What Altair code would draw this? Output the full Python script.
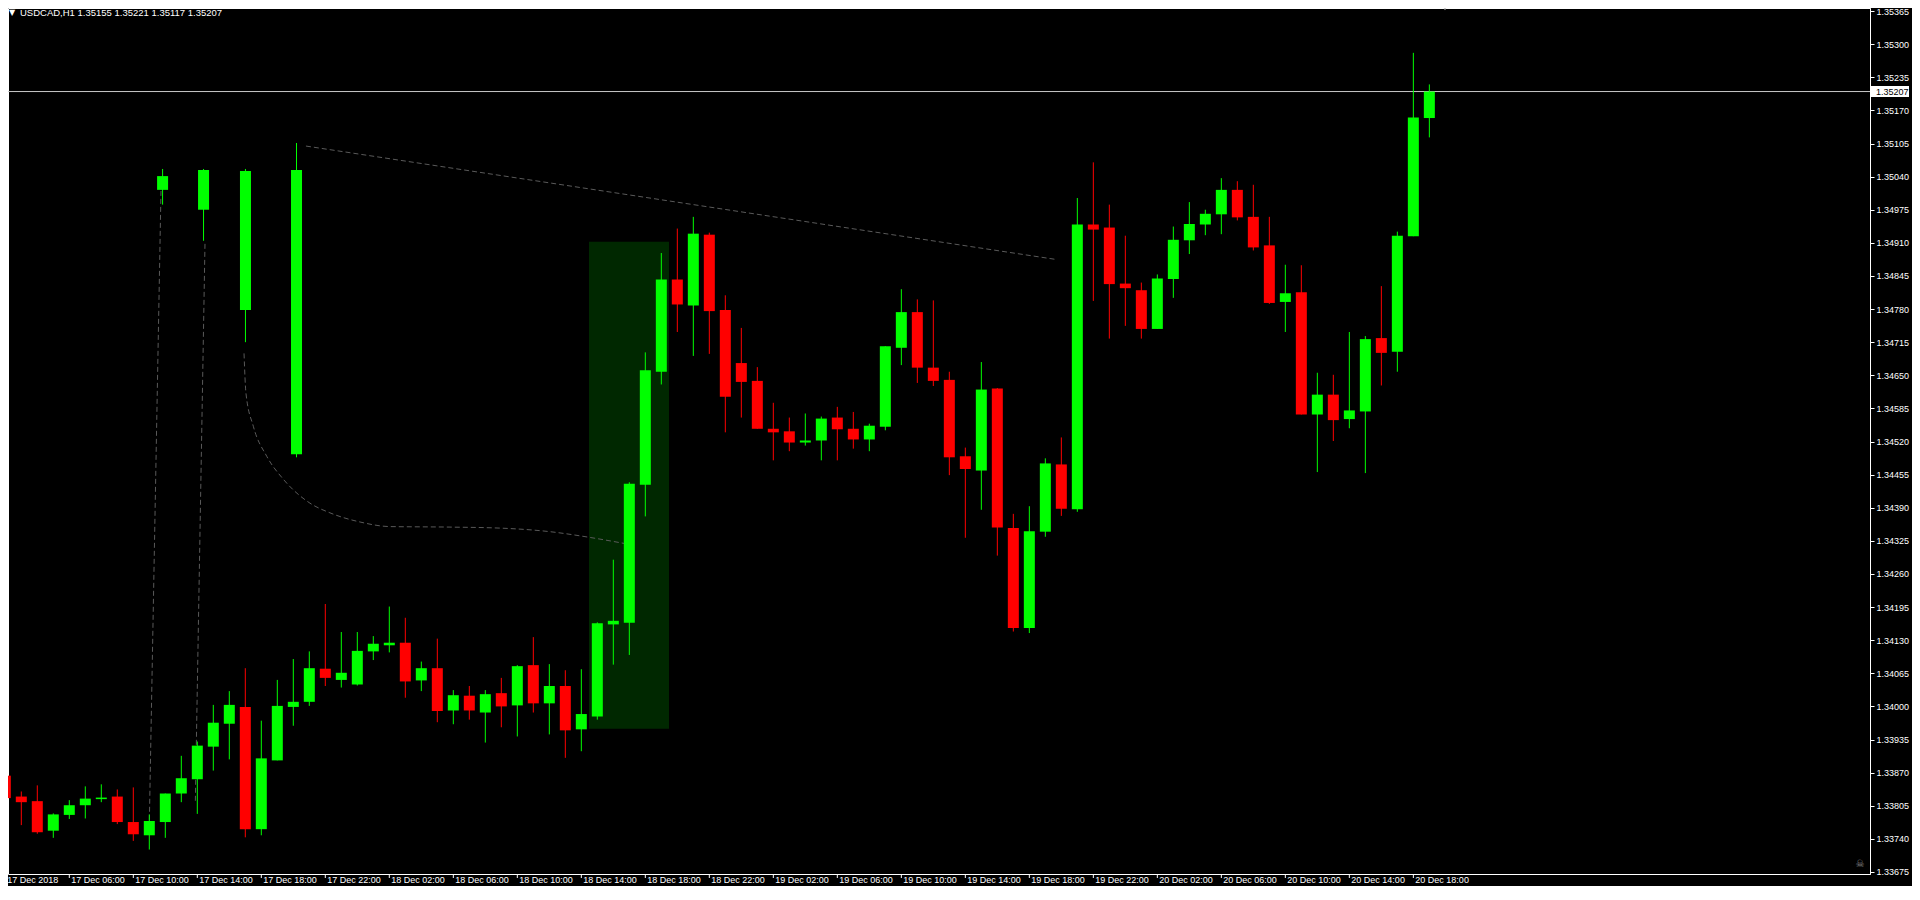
import altair as alt
import pandas as pd

# ---------------- data ----------------
symbol = "USDCAD,H1"

opens = [1.33864, 1.33823, 1.33814, 1.33756, 1.33787, 1.33806, 1.33818, 1.33823, 1.33773, 1.33747,
         1.33773, 1.33829, 1.33857, 1.33921, 1.33966, 1.33999, 1.33759, 1.33894, 1.33999, 1.34009,
         1.34074, 1.34052, 1.34043, 1.34108, 1.34120, 1.34125, 1.34051, 1.34075, 1.33992, 1.34021,
         1.33988, 1.34026, 1.34002, 1.34081, 1.34006, 1.34040, 1.33955, 1.33980, 1.34161, 1.34164,
         1.34435, 1.34657, 1.34838, 1.34787, 1.34926, 1.34778, 1.34674, 1.34639, 1.34545, 1.34540,
         1.34518, 1.34522, 1.34567, 1.34545, 1.34524, 1.34549, 1.34704, 1.34774, 1.34665, 1.34641,
         1.34491, 1.34463, 1.34624, 1.34350, 1.34154, 1.34343, 1.34475, 1.34387, 1.34946, 1.34940,
         1.34830, 1.34817, 1.34741, 1.34839, 1.34915, 1.34946, 1.34966, 1.35014, 1.34961, 1.34905,
         1.34794, 1.34813, 1.34573, 1.34612, 1.34564, 1.34579, 1.34723, 1.34696, 1.34923, 1.35155]
highs = [1.33870, 1.33833, 1.33845, 1.33790, 1.33816, 1.33843, 1.33847, 1.33837, 1.33841, 1.33788,
         1.33829, 1.33903, 1.33931, 1.34003, 1.34030, 1.34075, 1.33972, 1.34052, 1.34093, 1.34108,
         1.34201, 1.34146, 1.34146, 1.34138, 1.34196, 1.34174, 1.34088, 1.34133, 1.34032, 1.34040,
         1.34032, 1.34056, 1.34081, 1.34136, 1.34083, 1.34071, 1.34073, 1.34165, 1.34288, 1.34440,
         1.34695, 1.34890, 1.34938, 1.34961, 1.34930, 1.34807, 1.34743, 1.34666, 1.34596, 1.34567,
         1.34575, 1.34569, 1.34588, 1.34578, 1.34555, 1.34707, 1.34819, 1.34799, 1.34797, 1.34657,
         1.34508, 1.34676, 1.34625, 1.34378, 1.34393, 1.34487, 1.34528, 1.34998, 1.35068, 1.34985,
         1.34924, 1.34832, 1.34848, 1.34942, 1.34990, 1.34975, 1.35037, 1.35031, 1.35024, 1.34961,
         1.34867, 1.34866, 1.34655, 1.34651, 1.34735, 1.34727, 1.34825, 1.34932, 1.35283, 1.35221]
lows = [1.33724, 1.33767, 1.33750, 1.33742, 1.33779, 1.33780, 1.33812, 1.33769, 1.33736, 1.33719,
        1.33742, 1.33812, 1.33789, 1.33874, 1.33896, 1.33743, 1.33747, 1.33894, 1.33962, 1.34001,
        1.34040, 1.34037, 1.34041, 1.34091, 1.34106, 1.34017, 1.34030, 1.33969, 1.33965, 1.33974,
        1.33929, 1.33959, 1.33941, 1.33988, 1.33945, 1.33899, 1.33912, 1.33974, 1.34082, 1.34101,
        1.34373, 1.34632, 1.34735, 1.34688, 1.34692, 1.34538, 1.34567, 1.34545, 1.34483, 1.34501,
        1.34512, 1.34483, 1.34483, 1.34506, 1.34501, 1.34542, 1.34670, 1.34635, 1.34629, 1.34454,
        1.34331, 1.34386, 1.34296, 1.34147, 1.34144, 1.34333, 1.34374, 1.34382, 1.34796, 1.34722,
        1.34747, 1.34722, 1.34741, 1.34802, 1.34888, 1.34925, 1.34927, 1.34954, 1.34895, 1.34790,
        1.34735, 1.34573, 1.34460, 1.34521, 1.34546, 1.34458, 1.34630, 1.34657, 1.34923, 1.35117]
closes = [1.33820, 1.33812, 1.33753, 1.33788, 1.33806, 1.33819, 1.33821, 1.33773, 1.33749, 1.33775,
          1.33829, 1.33859, 1.33923, 1.33968, 1.34003, 1.33759, 1.33898, 1.34001, 1.34009, 1.34075,
          1.34056, 1.34066, 1.34109, 1.34123, 1.34125, 1.34049, 1.34075, 1.33991, 1.34022, 1.33992,
          1.34024, 1.34000, 1.34079, 1.34006, 1.34040, 1.33953, 1.33985, 1.34163, 1.34168, 1.34437,
          1.34660, 1.34838, 1.34789, 1.34928, 1.34776, 1.34608, 1.34637, 1.34545, 1.34538, 1.34518,
          1.34522, 1.34565, 1.34544, 1.34524, 1.34551, 1.34707, 1.34774, 1.34665, 1.34639, 1.34489,
          1.34466, 1.34622, 1.34351, 1.34154, 1.34344, 1.34477, 1.34388, 1.34946, 1.34936, 1.34829,
          1.34821, 1.34741, 1.34840, 1.34916, 1.34947, 1.34967, 1.35014, 1.34960, 1.34901, 1.34792,
          1.34811, 1.34573, 1.34612, 1.34562, 1.34581, 1.34721, 1.34694, 1.34924, 1.35156, 1.35207]
bar_index = list(range(len(opens)))

# drawn candle objects near the top (positions in bar units)
obj_bars = [9.83, 12.39, 15.01, 18.2]
obj_open = [1.35014, 1.34975, 1.34778, 1.34495]
obj_high = [1.35055, 1.35055, 1.35055, 1.35106]
obj_low = [1.34985, 1.34914, 1.34715, 1.34489]
obj_close = [1.35041, 1.35053, 1.35051, 1.35053]

# shaded zone
zone_bar_start = [36.48]
zone_bar_end = [41.48]
zone_top = [1.34912]
zone_bottom = [1.33956]

# dashed drawing lines
line_a_bars = [9.73, 9.0]
line_a_prices = [1.35012, 1.33769]
line_b_bars = [12.48, 11.875]
line_b_prices = [1.34908, 1.33810]
line_d_bars = [18.79, 65.75]
line_d_prices = [1.35100, 1.34877]
curve_bars = [14.92, 15.04, 15.5, 16.34, 17.375, 19.04, 20.29, 22.17, 24.04, 27.79, 30.92, 34.04, 36.48, 38.84]
curve_prices = [1.34693, 1.34615, 1.34550, 1.34491, 1.34446, 1.34399, 1.34380, 1.34362, 1.34353,
                1.34352, 1.34350, 1.34343, 1.34332, 1.34319]

current_price = 1.35207

price_ticks = [1.33675, 1.33740, 1.33805, 1.33870, 1.33935, 1.34000, 1.34065, 1.34130, 1.34195,
               1.34260, 1.34325, 1.34390, 1.34455, 1.34520, 1.34585, 1.34650, 1.34715, 1.34780,
               1.34845, 1.34910, 1.34975, 1.35040, 1.35105, 1.35170, 1.35235, 1.35300, 1.35365]
time_tick_bars = [0, 4, 8, 12, 16, 20, 24, 28, 32, 36, 40, 44, 48, 52, 56, 60, 64, 68, 72, 76, 80, 84, 88]
time_tick_labels = ["17 Dec 2018", "17 Dec 06:00", "17 Dec 10:00", "17 Dec 14:00", "17 Dec 18:00",
                    "17 Dec 22:00", "18 Dec 02:00", "18 Dec 06:00", "18 Dec 10:00", "18 Dec 14:00",
                    "18 Dec 18:00", "18 Dec 22:00", "19 Dec 02:00", "19 Dec 06:00", "19 Dec 10:00",
                    "19 Dec 14:00", "19 Dec 18:00", "19 Dec 22:00", "20 Dec 02:00", "20 Dec 06:00",
                    "20 Dec 10:00", "20 Dec 14:00", "20 Dec 18:00"]

# ---------------- layout ----------------
W, H = 1862, 866
FONT = "Liberation Sans"

xs = alt.Scale(domain=[0.16875, 116.54], nice=False, zero=False)
ys = alt.Scale(domain=[1.33671, 1.35371], nice=False, zero=False)
yaxis = alt.Axis(orient="right", values=price_ticks, format=".5f", labelColor="white",
                 labelFont=FONT, labelFontSize=9, tickColor="white", tickSize=4,
                 domainColor="white", labelPadding=2, grid=False, title=None,
                 labelOverlap=False, labelFlush=False, labelBound=False)
color = alt.Color("dir:N", scale=alt.Scale(domain=["up", "down"], range=["#00ff00", "#ff0000"]),
                  legend=None)

candles = pd.DataFrame({"bar": bar_index, "open": opens, "high": highs, "low": lows, "close": closes})
objs = pd.DataFrame({"bar": obj_bars, "open": obj_open, "high": obj_high, "low": obj_low,
                     "close": obj_close})
allc = pd.concat([candles, objs], ignore_index=True)
allc["dir"] = ["up" if c >= o else "down" for o, c in zip(allc["open"], allc["close"])]

zone_df = pd.DataFrame({"x0": zone_bar_start, "x1": zone_bar_end, "top": zone_top, "bottom": zone_bottom})

lines = []
for name, bs, ps in [("a", line_a_bars, line_a_prices), ("b", line_b_bars, line_b_prices),
                     ("d", line_d_bars, line_d_prices)]:
    for i, (b, p) in enumerate(zip(bs, ps)):
        lines.append({"id": name, "i": i, "bar": b, "price": p})
lines_df = pd.DataFrame(lines)
curve_df = pd.DataFrame({"bar": curve_bars, "price": curve_prices, "i": list(range(len(curve_bars)))})

ticks_df = pd.DataFrame({"bar": time_tick_bars, "label": time_tick_labels})
price_df = pd.DataFrame({"price": [current_price]})
one = pd.DataFrame({"a": [0]})

zone = alt.Chart(zone_df).mark_rect(color="#002800").encode(
    x=alt.X("x0:Q", scale=xs, axis=None), x2="x1:Q",
    y=alt.Y("top:Q", scale=ys, axis=yaxis), y2="bottom:Q")

price_line = alt.Chart(price_df).mark_rule(color="#c8c8c8", strokeWidth=1).encode(
    y=alt.Y("price:Q", scale=ys, axis=yaxis))

dashed = alt.Chart(lines_df).mark_line(color="#5a5a5a", strokeWidth=1, strokeDash=[5, 3]).encode(
    x=alt.X("bar:Q", scale=xs, axis=None), y=alt.Y("price:Q", scale=ys, axis=yaxis),
    detail="id:N", order="i:Q")

curve = alt.Chart(curve_df).mark_line(color="#5a5a5a", strokeWidth=1, strokeDash=[5, 3],
                                      interpolate="monotone").encode(
    x=alt.X("bar:Q", scale=xs, axis=None), y=alt.Y("price:Q", scale=ys, axis=yaxis), order="i:Q")

wicks = alt.Chart(allc).mark_rule(strokeWidth=1, clip=True).encode(
    x=alt.X("bar:Q", scale=xs, axis=None), y=alt.Y("low:Q", scale=ys, axis=yaxis), y2="high:Q",
    color=color)

bodies = alt.Chart(allc).mark_rule(strokeWidth=11, strokeCap="butt", clip=True).encode(
    x=alt.X("bar:Q", scale=xs, axis=None), y=alt.Y("open:Q", scale=ys, axis=yaxis), y2="close:Q",
    color=color)

xticks = alt.Chart(ticks_df).mark_rule(color="white", strokeWidth=1).encode(
    x=alt.X("bar:Q", scale=xs, axis=None), y=alt.value(H), y2=alt.value(H + 4))

xlabels = alt.Chart(ticks_df).mark_text(color="white", font=FONT, fontSize=9, align="left",
                                         baseline="middle", dx=2).encode(
    x=alt.X("bar:Q", scale=xs, axis=None), y=alt.value(H + 6), text="label:N")

box_shape = "M-1,-0.29L1,-0.29L1,0.29L-1,0.29Z"
price_box = alt.Chart(price_df).mark_point(shape=box_shape, size=1444, filled=True, color="white",
                                            opacity=1, strokeWidth=0).encode(
    x=alt.value(W + 20), y=alt.Y("price:Q", scale=ys, axis=yaxis))
price_txt = alt.Chart(price_df).mark_text(color="black", font=FONT, fontSize=9, align="left",
                                           baseline="middle").encode(
    x=alt.value(W + 6), y=alt.Y("price:Q", scale=ys, axis=yaxis), text=alt.Text("price:Q", format=".5f"))

title_text = f"{symbol}  {opens[-1]:.5f} {highs[-1]:.5f} {lows[-1]:.5f} {closes[-1]:.5f}"
title_tri = alt.Chart(one).mark_text(text="▼", color="white", fontSize=8, font="DejaVu Sans",
                                     align="left", baseline="middle").encode(
    x=alt.value(1), y=alt.value(5))
title = alt.Chart(one).mark_text(text=title_text, color="white", font=FONT, fontSize=9.5,
                                 align="left", baseline="middle").encode(
    x=alt.value(12), y=alt.value(5))

shift_mark = alt.Chart(one).mark_point(shape="triangle-down", size=30, filled=True,
                                       color="#c8c8c8", opacity=1).encode(
    x=alt.value(1437), y=alt.value(0))
skull = alt.Chart(one).mark_text(text="☠", color="#8a8a8a", font="DejaVu Sans", fontSize=10,
                                 align="center", baseline="middle").encode(
    x=alt.value(W - 10), y=alt.value(H - 10))

chart = alt.layer(zone, price_line, dashed, curve, wicks, bodies, xticks, xlabels,
                  price_box, price_txt, title_tri, title, shift_mark, skull).properties(
    width=W, height=H, background="black",
    padding={"left": 0, "top": 0, "right": 42, "bottom": 12},
    autosize=alt.AutoSizeParams(type="none"),
).configure_view(stroke="white", strokeWidth=1)

chart.save("out.html", embed_options={"renderer": "svg", "actions": False})
